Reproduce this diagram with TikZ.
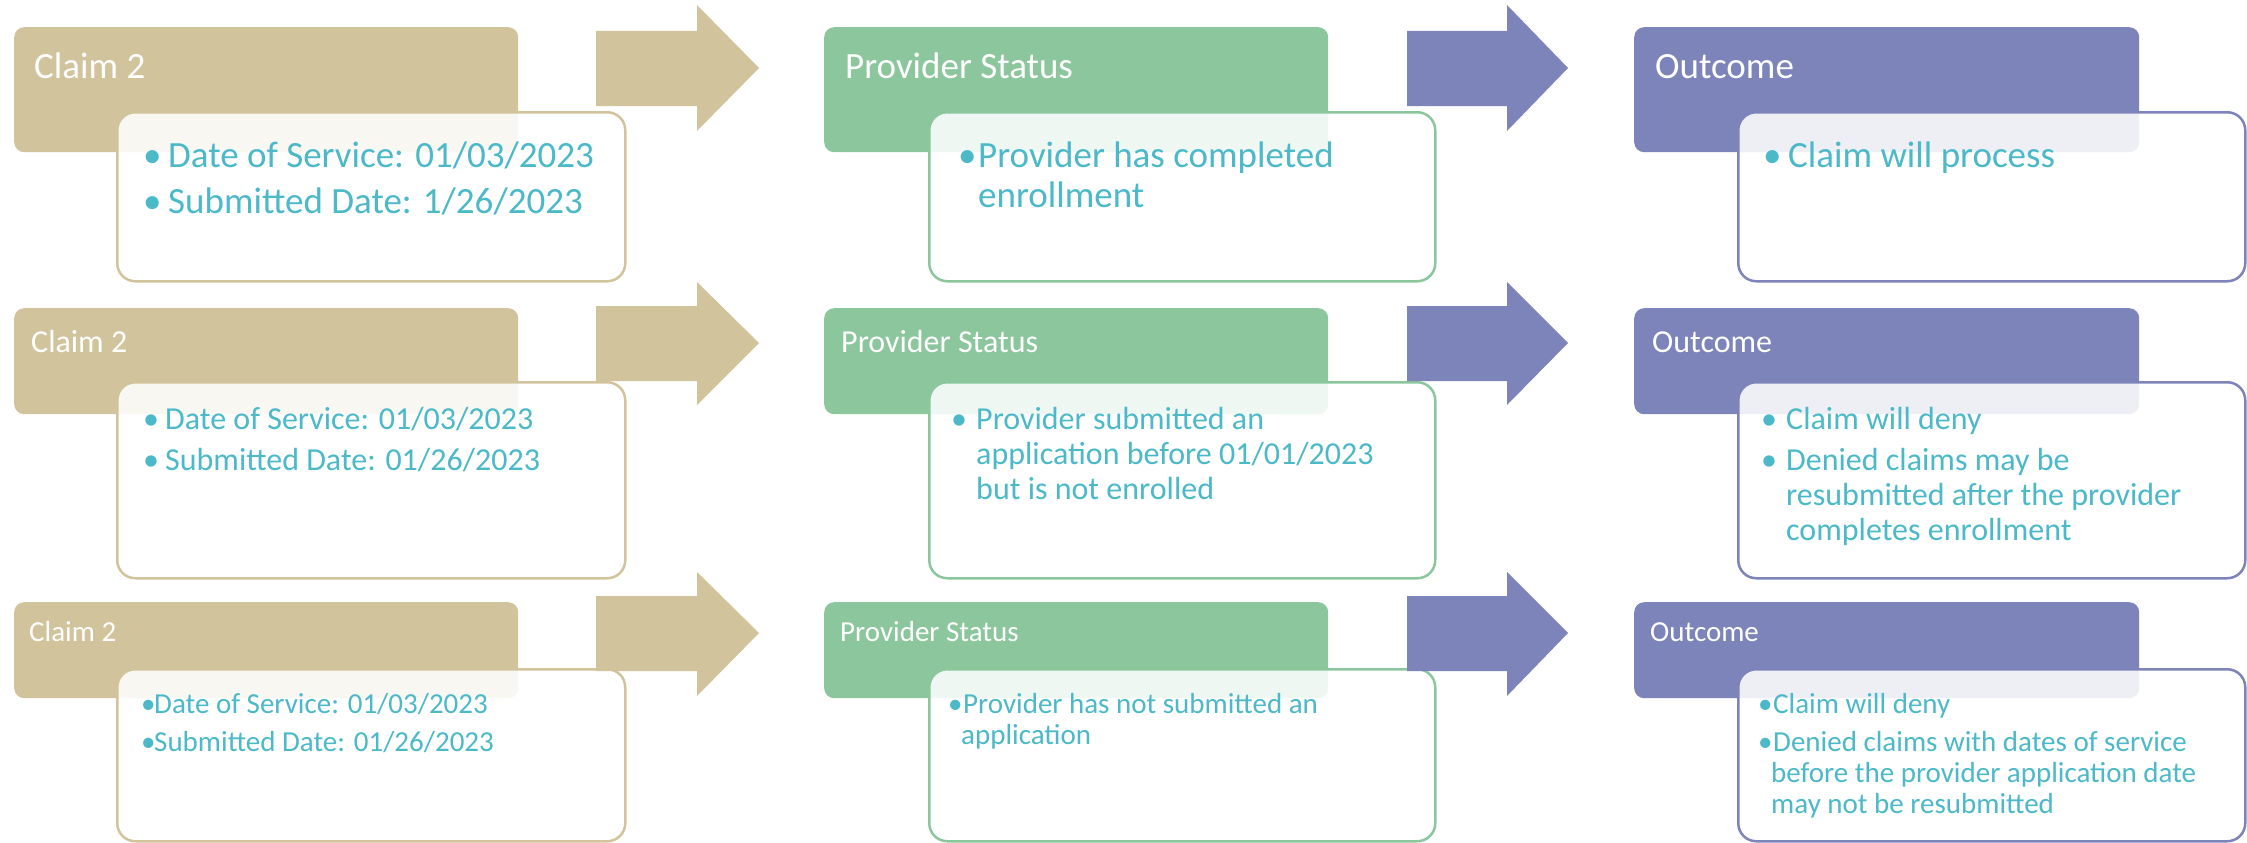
\documentclass[tikz,border=0pt]{standalone}
\usepackage{fontspec}
\setmainfont{Carlito}
\definecolor{tan}{RGB}{209,195,155}
\definecolor{grn}{RGB}{139,198,156}
\definecolor{prp}{RGB}{125,132,185}
\definecolor{teal}{RGB}{75,185,200}
\newcommand\fsA{\fontsize{37}{44}\selectfont}
\newcommand\fsB{\fontsize{32}{38}\selectfont}
\newcommand\fsC{\fontsize{29}{35}\selectfont}
\tikzset{
  hdr/.style={rectangle, rounded corners=10pt, anchor=north west, inner sep=0pt, draw=none},
  card/.style={rectangle, rounded corners=18pt, anchor=north west, inner sep=0pt, line width=2.5pt, fill=white, fill opacity=0.87},
  htext/.style={anchor=base west, inner sep=0pt, text=white},
  btext/.style={anchor=base west, inner sep=0pt, text=teal},
}
\begin{document}
\begin{tikzpicture}[x=1pt,y=-1pt]
\useasboundingbox (0,0) rectangle (2247,843);
% ---------- headers ----------
\foreach \c/\x/\w in {tan/14/504, grn/824/504, prp/1634/505}{
  \node[hdr, fill=\c, minimum width=\w pt, minimum height=125pt] (h1\c) at (\x,27) {};
  \node[hdr, fill=\c, minimum width=\w pt, minimum height=106pt] (h2\c) at (\x,308) {};
  \node[hdr, fill=\c, minimum width=\w pt, minimum height=96pt] (h3\c) at (\x,602) {};
}
% ---------- cards ----------
\foreach \c/\x/\w in {tan/116/508, grn/928/506, prp/1737/507}{
  \node[card, draw=\c, minimum width=\w pt, minimum height=169pt] (c1\c) at (\x,111) {};
  \node[card, draw=\c, minimum width=\w pt, minimum height=196pt] (c2\c) at (\x,381) {};
  \node[card, draw=\c, minimum width=\w pt, minimum height=172pt] (c3\c) at (\x,668) {};
}
% ---------- arrows ----------
\foreach \c/\a/\b/\t in {tan/596/697/759, prp/1407/1507/1568}{
  \fill[\c] (\a,31) -- (\b,31) -- (\b,5) -- (\t,68) -- (\b,131) -- (\b,106) -- (\a,106) -- cycle;
  \fill[\c] (\a,306) -- (\b,306) -- (\b,282) -- (\t,343) -- (\b,405) -- (\b,381) -- (\a,381) -- cycle;
  \fill[\c] (\a,596) -- (\b,596) -- (\b,572) -- (\t,633) -- (\b,696) -- (\b,671) -- (\a,671) -- cycle;
}
% ---------- header texts ----------
\node[htext, font=\fsA] (t11) at (34,78) {Claim 2};
\node[htext, font=\fsA] (t12) at (845,78) {Provider Status};
\node[htext, font=\fsA] (t13) at (1655,78) {Outcome};
\node[htext, font=\fsB] (t21) at (31,352) {Claim 2};
\node[htext, font=\fsB] (t22) at (841,352) {Provider Status};
\node[htext, font=\fsB] (t23) at (1652,352) {Outcome};
\node[htext, font=\fsC] (t31) at (29,641) {Claim 2};
\node[htext, font=\fsC] (t32) at (840,641) {Provider Status};
\node[htext, font=\fsC] (t33) at (1650,641) {Outcome};
% ---------- row 1 bullets ----------
\begin{scope}[every node/.style={btext, font=\fsA}]
\node (b1a) at (143,167) {•};
\node (l1a) at (168,167) {Date of Service: 01/03/2023};
\node (b1b) at (143,213) {•};
\node (l1b) at (168,213) {Submitted Date: 1/26/2023};
\node (b1c) at (958,167) {•};
\node (l1c) at (978,167) {Provider has completed};
\node (l1d) at (978,207) {enrollment};
\node (b1e) at (1763,167) {•};
\node (l1e) at (1788,167) {Claim will process};
\end{scope}
% ---------- row 2 bullets ----------
\begin{scope}[every node/.style={btext, font=\fsB}]
\node (b2a) at (143,429) {•};
\node (l2a) at (165,429) {Date of Service: 01/03/2023};
\node (b2b) at (143,470) {•};
\node (l2b) at (165,470) {Submitted Date: 01/26/2023};
\node (b2c) at (951,429) {•};
\node (l2c) at (976,429) {Provider submitted an};
\node (l2d) at (976,464) {application before 01/01/2023};
\node (l2e) at (976,499) {but is not enrolled};
\node (b2f) at (1761,429) {•};
\node (l2f) at (1786,429) {Claim will deny};
\node (b2g) at (1761,470) {•};
\node (l2g) at (1786,470) {Denied claims may be};
\node (l2h) at (1786,505) {resubmitted after the provider};
\node (l2i) at (1786,540) {completes enrollment};
\end{scope}
% ---------- row 3 bullets ----------
\begin{scope}[every node/.style={btext, font=\fsC}]
\node (b3a) at (141,713) {•};
\node (l3a) at (154,713) {Date of Service: 01/03/2023};
\node (b3b) at (141,751) {•};
\node (l3b) at (154,751) {Submitted Date: 01/26/2023};
\node (b3c) at (948,713) {•};
\node (l3c) at (963,713) {Provider has not submitted an};
\node (l3d) at (961,744) {application};
\node (b3e) at (1758,713) {•};
\node (l3e) at (1773,713) {Claim will deny};
\node (b3f) at (1758,751) {•};
\node (l3f) at (1773,751) {Denied claims with dates of service};
\node (l3g) at (1771,782) {before the provider application date};
\node (l3h) at (1771,813) {may not be resubmitted};
\end{scope}
\end{tikzpicture}
\end{document}
